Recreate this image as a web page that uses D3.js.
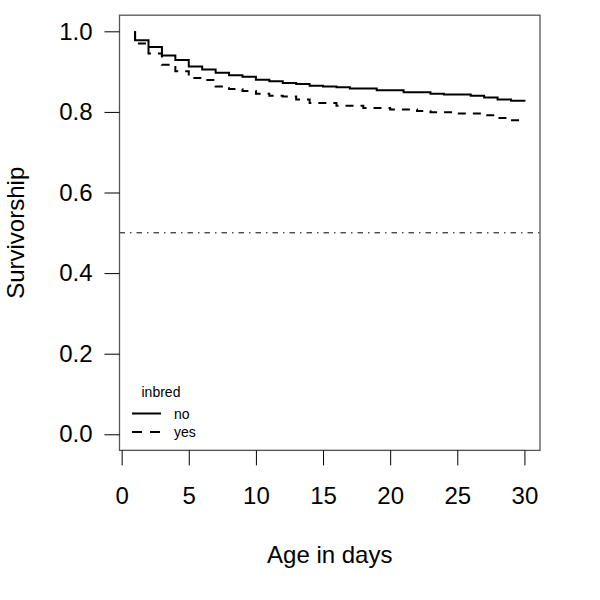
<!DOCTYPE html>
<html>
<head>
<meta charset="utf-8">
<script src="https://cdn.jsdelivr.net/npm/d3@7"></script>
<style>
  html, body { margin: 0; padding: 0; background: #fff; }
  svg { display: block; }
  text { font-family: "Liberation Sans", Arial, Helvetica, sans-serif; fill: #000; }
</style>
</head>
<body>
<svg id="chart" width="600" height="600"></svg>
<script>
// ---- data ----
const noTimes = [1, 2, 3, 4, 5, 6, 7, 8, 9, 10, 11, 12, 13, 14, 15, 16, 17, 19, 21, 23, 24, 26, 27, 28, 29, 30];
const noSurv  = [0.978, 0.961, 0.940, 0.929, 0.913, 0.905, 0.897, 0.891, 0.887, 0.880, 0.876, 0.872, 0.869, 0.865, 0.863, 0.861, 0.858, 0.854, 0.849, 0.845, 0.843, 0.840, 0.836, 0.831, 0.828, 0.825];
const yesTimes = [1, 2, 3, 4, 5, 6, 7, 8, 9, 10, 11, 12, 13, 14, 16, 18, 20, 22, 23, 25, 27, 28, 29, 30];
const yesSurv  = [0.970, 0.945, 0.917, 0.901, 0.884, 0.879, 0.863, 0.857, 0.852, 0.845, 0.840, 0.838, 0.831, 0.822, 0.815, 0.810, 0.806, 0.802, 0.799, 0.796, 0.792, 0.785, 0.779, 0.777];
const startTime = 1;
const refLevel = 0.5;
const xTicks = [0, 5, 10, 15, 20, 25, 30];
const yTicks = [0, 0.2, 0.4, 0.6, 0.8, 1.0];
const legendTitle = "inbred";
const legendLabels = ["no", "yes"];
const xTitle = "Age in days";
const yTitle = "Survivorship";

(function () {
// ---- layout ----
const svg = d3.select("#chart");
const pLeft = 119.5, pRight = 540, pTop = 15.2, pBottom = 450.4;
const x = d3.scaleLinear().domain([-0.16, 31.16]).range([pLeft, pRight]);
const y = d3.scaleLinear().domain([-0.04, 1.04]).range([pBottom, pTop]);

function stepPoints(times, surv) {
  const pts = [[startTime, 1]];
  let prev = 1;
  times.forEach((t, i) => {
    pts.push([t, prev]);
    pts.push([t, surv[i]]);
    prev = surv[i];
  });
  return pts;
}
const line = d3.line().x(d => x(d[0])).y(d => y(d[1]));

// reference line
svg.append("line")
  .attr("x1", pLeft).attr("x2", pRight)
  .attr("y1", y(refLevel)).attr("y2", y(refLevel))
  .attr("stroke", "#000").attr("stroke-width", 1)
  .attr("stroke-dasharray", "5.5,5,1.5,5");

// curves
svg.append("path").attr("d", line(stepPoints(noTimes, noSurv)))
  .attr("fill", "none").attr("stroke", "#000").attr("stroke-width", 2);
svg.append("path").attr("d", line(stepPoints(yesTimes, yesSurv)))
  .attr("fill", "none").attr("stroke", "#000").attr("stroke-width", 2)
  .attr("stroke-dasharray", "8,7");

// box
svg.append("rect")
  .attr("x", pLeft).attr("y", pTop)
  .attr("width", pRight - pLeft).attr("height", pBottom - pTop)
  .attr("fill", "none").attr("stroke", "#555").attr("stroke-width", 1.3);

// axes
const xAxis = d3.axisBottom(x).tickValues(xTicks).tickSize(15).tickPadding(22)
  .tickFormat(d3.format("d"));
const gx = svg.append("g").attr("transform", `translate(0,${pBottom})`).call(xAxis);
gx.select(".domain").attr("d", `M${x(0)},0H${x(30)}`).attr("stroke", "#555");
gx.selectAll(".tick line").attr("stroke", "#000");
gx.selectAll("text").attr("font-size", 24).attr("font-family", "Liberation Sans, Arial, sans-serif");

const yAxis = d3.axisLeft(y).tickValues(yTicks).tickSize(15).tickPadding(12)
  .tickFormat(d3.format(".1f"));
const gy = svg.append("g").attr("transform", `translate(${pLeft},0)`).call(yAxis);
gy.select(".domain").attr("d", `M0,${y(0)}V${y(1)}`).attr("stroke", "#555");
gy.selectAll(".tick line").attr("stroke", "#000");
gy.selectAll("text").attr("font-size", 24).attr("font-family", "Liberation Sans, Arial, sans-serif");

// titles
svg.append("text").attr("x", (pLeft + pRight) / 2).attr("y", 563)
  .attr("text-anchor", "middle").attr("font-size", 24).text(xTitle);
svg.append("text").attr("transform", `translate(24,${(pTop + pBottom) / 2}) rotate(-90)`)
  .attr("text-anchor", "middle").attr("font-size", 24).text(yTitle);

// legend
const lg = svg.append("g");
lg.append("text").attr("x", 141.5).attr("y", 396.5).attr("font-size", 14).text(legendTitle);
const dashes = [null, "10,8"];
legendLabels.forEach((lab, i) => {
  const yy = 413.5 + i * 18.5;
  lg.append("line").attr("x1", 132).attr("x2", 161).attr("y1", yy).attr("y2", yy)
    .attr("stroke", "#000").attr("stroke-width", 2)
    .attr("stroke-dasharray", dashes[i]);
  lg.append("text").attr("x", 174).attr("y", yy + 5).attr("font-size", 14).text(lab);
});
})();
</script>
</body>
</html>
